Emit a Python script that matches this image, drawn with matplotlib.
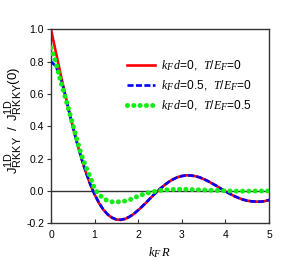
import numpy as np
import matplotlib
matplotlib.use("Agg")
from matplotlib import pyplot as plt
import matplotlib._mathtext as mathtext_mod

# gnuplot style subscripts are not shrunk as much as matplotlib's default
mathtext_mod.SHRINK_FACTOR = 0.82

plt.rcParams['font.family'] = ['Liberation Sans', 'DejaVu Sans']
plt.rcParams['mathtext.fontset'] = 'custom'
plt.rcParams['mathtext.it'] = 'Liberation Serif:italic'
plt.rcParams['mathtext.rm'] = 'Liberation Sans'
plt.rcParams['mathtext.sf'] = 'Liberation Sans'

# kF*R grid (0.1 steps)
kfr = [round(0.1 * i, 1) for i in range(51)]

# kFd=0, T/EF=0
red_vals = [1.000, 0.873, 0.748, 0.626, 0.508, 0.398, 0.295, 0.200, 0.116, 0.041,
            -0.022, -0.074, -0.116, -0.146, -0.166, -0.177, -0.179, -0.173, -0.160, -0.142,
            -0.119, -0.094, -0.067, -0.039, -0.012, 0.013, 0.036, 0.056, 0.073, 0.085,
            0.093, 0.097, 0.096, 0.092, 0.085, 0.074, 0.061, 0.046, 0.031, 0.014,
            -0.002, -0.017, -0.031, -0.043, -0.053, -0.060, -0.064, -0.066, -0.066, -0.063,
            -0.056]

# kFd=0.5, T/EF=0
blue_vals = [0.800, 0.775, 0.715, 0.622, 0.507, 0.398, 0.295, 0.200, 0.116, 0.042,
             -0.021, -0.073, -0.115, -0.145, -0.165, -0.176, -0.178, -0.172, -0.159, -0.141,
             -0.118, -0.093, -0.066, -0.039, -0.012, 0.013, 0.036, 0.056, 0.072, 0.084,
             0.092, 0.096, 0.096, 0.092, 0.085, 0.074, 0.061, 0.046, 0.031, 0.014,
             -0.002, -0.017, -0.031, -0.043, -0.053, -0.060, -0.064, -0.066, -0.066, -0.063,
             -0.056]

# kFd=0, T/EF=0.5
green_vals = [0.885, 0.805, 0.700, 0.605, 0.510, 0.410, 0.312, 0.220, 0.150, 0.085,
              0.015, -0.022, -0.045, -0.061, -0.067, -0.068, -0.066, -0.062, -0.055, -0.044,
              -0.031, -0.022, -0.014, -0.007, -0.002, 0.003, 0.006, 0.008, 0.009, 0.010,
              0.010, 0.010, 0.009, 0.008, 0.007, 0.006, 0.005, 0.004, 0.003, 0.002,
              0.001, 0.000, -0.001, -0.001, -0.001, -0.001, -0.001, 0.000, 0.000, 0.000,
              0.000]

labels = [r'$k_F\,d$=0,  $T/E_F$=0',
          r'$k_F\,d$=0.5,  $T/E_F$=0',
          r'$k_F\,d$=0,  $T/E_F$=0.5']

fig = plt.figure(figsize=(2.84, 2.61), dpi=100)
ax = fig.add_axes([0.1796, 0.1444, 0.7676, 0.7433])

ax.axhline(0, color='#333333', lw=1.0, zorder=1)

ax.plot(kfr, red_vals, color='#ff0000', lw=1.9, label=labels[0], zorder=2)
ax.plot(kfr, blue_vals, color='#0000ff', lw=1.9, ls=(0, (2.3, 0.9)), label=labels[1], zorder=3)
ax.plot(kfr, green_vals, color='#11ee11', lw=3.6, ls=(0, (0.01, 1.25)),
        dash_capstyle='round', label=labels[2], zorder=4)

ax.set_xlim(0, 5)
ax.set_ylim(-0.2, 1.0)
ax.set_xticks([0, 1, 2, 3, 4, 5])
ax.set_yticks([-0.2, 0.0, 0.2, 0.4, 0.6, 0.8, 1.0])
ax.set_yticklabels(['-0.2', '0.0', '0.2', '0.4', '0.6', '0.8', '1.0'])
ax.tick_params(axis='x', direction='in', length=3, labelsize=7.5, pad=5, color='#333333')
ax.tick_params(axis='y', direction='out', length=3, labelsize=7.5, pad=2, color='#333333')
for sp in ax.spines.values():
    sp.set_color('#333333')
    sp.set_linewidth(1.0)

ax.set_xlabel(r'$k_F\,R$', fontsize=9)
ax.xaxis.set_label_coords(0.5, -0.115)
ax.set_ylabel(r'$\mathrm{J^{1D}_{RKKY}\ \ /\ \ J^{1D}_{RKKY}(0)}$', fontsize=9.5)
ax.yaxis.set_label_coords(-0.125, 0.53)

ax.legend(loc='upper left', bbox_to_anchor=(0.322, 0.88), frameon=False, fontsize=8.6,
          handlelength=2.3, handletextpad=0.5, labelspacing=0.45, borderpad=0)

fig.savefig('out.png', dpi=100)
